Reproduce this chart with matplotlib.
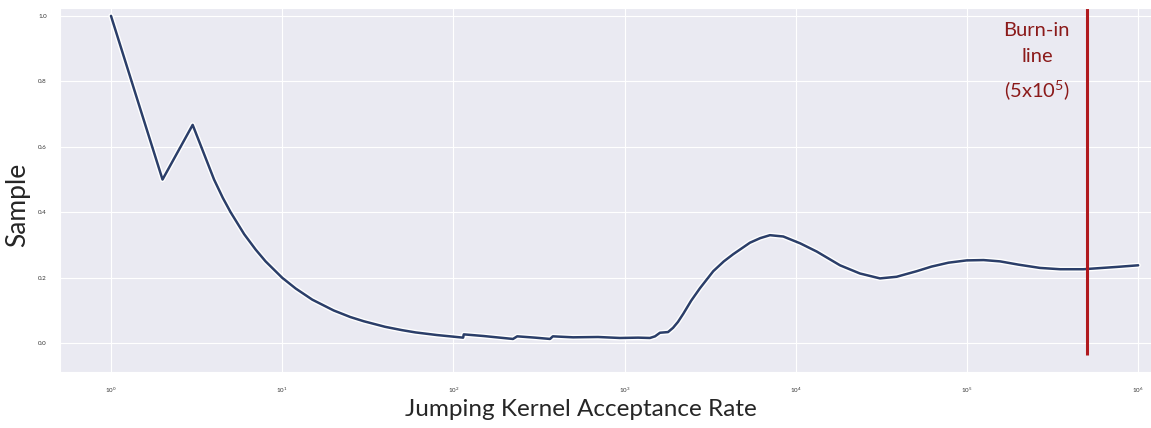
import matplotlib
matplotlib.use("Agg")
import matplotlib.pyplot as plt
import matplotlib.patheffects as pe
import seaborn as sns
import numpy as np

# running sample value (x on log scale)
rate = [1, 2, 3, 4, 4.5, 5, 6, 7, 8, 10, 12, 15, 20, 25, 30, 40, 50, 60, 80, 100,
        114, 115, 150, 223, 236, 300, 367, 381, 500, 700, 940, 1200, 1407, 1506,
        1610, 1794, 1919, 2050, 2203, 2450, 2756, 3296, 3800, 4313, 5398, 6200,
        7066, 8454, 10620, 13260, 18130, 23700, 31030, 38840, 50850, 62000,
        78000, 99600, 125000, 156000, 200000, 266900, 350000, 477700, 748600,
        1000000]
sample = [1.0, 0.5, 0.667, 0.5, 0.444, 0.4, 0.333, 0.286, 0.25, 0.2, 0.167, 0.133,
          0.1, 0.08, 0.067, 0.05, 0.04, 0.033, 0.025, 0.02,
          0.017, 0.027, 0.022, 0.013, 0.021, 0.017, 0.013, 0.021, 0.018, 0.019,
          0.016, 0.017, 0.016, 0.021, 0.032, 0.034, 0.047, 0.065, 0.09, 0.13,
          0.168, 0.220, 0.250, 0.272, 0.307, 0.321, 0.330, 0.326, 0.305, 0.280,
          0.238, 0.213, 0.198, 0.203, 0.220, 0.234, 0.246, 0.253, 0.254, 0.250,
          0.240, 0.230, 0.226, 0.226, 0.233, 0.238]

burn_in = 5e5
burn_low, burn_high = -0.036, 1.2

sns.set_style("darkgrid")
plt.rcParams['font.family'] = ['Lato', 'DejaVu Sans']
plt.rcParams['mathtext.default'] = 'regular'

fig = plt.figure(figsize=(11.51, 4.28), dpi=100)
ax = fig.add_axes([0.0521, 0.1308, 0.9479, 0.8505])

ax.plot(rate, sample, color='#2b3e69', linewidth=1.8,
        path_effects=[pe.Stroke(linewidth=3.8, foreground='white'), pe.Normal()])
ax.vlines(burn_in, burn_low, burn_high, color='#b0191e', linewidth=2.2)

ax.set_xscale('log')
ax.set_xlim(10 ** -0.298, 10 ** 6.075)
ax.set_ylim(-0.088, 1.024)
ax.set_xticks([1, 10, 100, 1e3, 1e4, 1e5, 1e6])
ax.set_xticks([], minor=True)
ax.set_yticks([0.0, 0.2, 0.4, 0.6, 0.8, 1.0])
ax.set_yticklabels(['0.0', '0.2', '0.4', '0.6', '0.8', '1.0'])
ax.tick_params(labelsize=4.5, colors='#333333', pad=6)

ax.set_xlabel('Jumping Kernel Acceptance Rate', fontsize=17.5)
ax.xaxis.set_label_coords(0.477, -0.075)
ax.set_ylabel('Sample', fontsize=19)
ax.yaxis.set_label_coords(-0.0275, 0.459)

ax.text(2.56e5, 0.86, 'Burn-in\nline\n(5x10$^5$)', color='#8b1a1a',
        fontsize=14.5, ha='center', va='center', linespacing=1.68)

fig.savefig('out.png', dpi=100)
